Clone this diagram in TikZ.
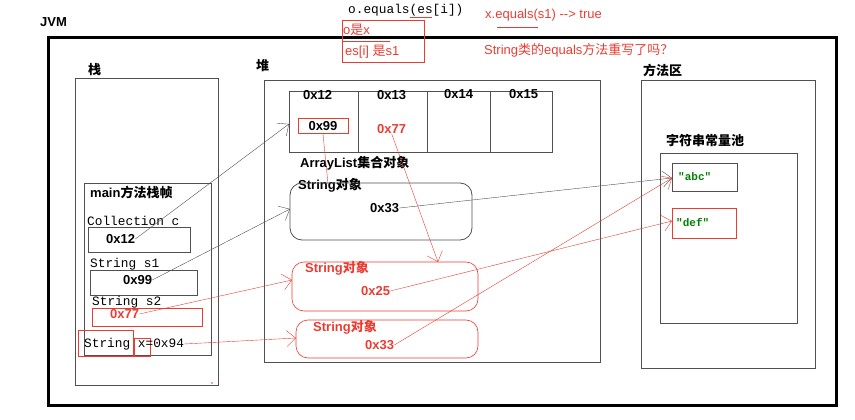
\documentclass[tikz,border=0pt]{standalone}
\usepackage{fontspec}
\setmainfont{Liberation Sans}
\setmonofont{Liberation Mono}
\newfontfamily\cjk{Noto Sans CJK SC}
\usetikzlibrary{arrows.meta}
\definecolor{rd}{RGB}{235,60,50}
\definecolor{gr}{RGB}{0,130,0}
\definecolor{ln}{RGB}{80,80,80}
\tikzset{
 box/.style={draw=ln,line width=0.8pt},
 rbox/.style={draw=rd,line width=0.6pt},
 lbl/.style={anchor=west,inner sep=0pt,font=\bfseries\fontsize{13}{14}\selectfont},
 rlbl/.style={lbl,text=rd},
 mono/.style={anchor=west,inner sep=0pt,font=\ttfamily\fontsize{12.8}{14}\selectfont},
 note/.style={anchor=west,inner sep=0pt,text=rd,font=\fontsize{13}{14}\selectfont},
 ga/.style={draw=ln,-{Straight Barb[length=9pt,width=16pt]}},
 ra/.style={draw=rd,-{Straight Barb[length=9pt,width=16pt]}},
}
\begin{document}
\begin{tikzpicture}[x=1pt,y=-1pt]
\useasboundingbox (0,0) rectangle (855,420);
\node[lbl] (jvm) at (40,22) {JVM};
\draw[line width=3pt] (48,38) rectangle (836,405);
% stack
\node[lbl] (zhan) at (88,70) {\cjk\bfseries 栈};
\draw[box] (75,78) rectangle (218,385);
\draw[box] (84,183) rectangle (211,355);
\node[lbl] at (90,192) {main{\cjk\bfseries 方法栈帧}};
\node[mono] at (87,221) {Collection c};
\draw[box] (88,227) rectangle (190,252);
\node[lbl] (s12) at (106,239) {0x12};
\node[mono] at (90,264) {String s1};
\draw[box] (90,270) rectangle (197,295);
\node[lbl] (s99) at (123,280) {0x99};
\node[mono] at (92,302) {String s2};
\draw[rbox] (92,308) rectangle (202,326);
\node[rlbl] (s77) at (110,314) {0x77};
\draw[rbox] (78,330) rectangle (133,356);
\draw[rbox] (134,338) rectangle (150,356);
\node[mono] (sx) at (84,344) {String x=0x94};
% heap
\node[lbl] at (256,66) {\cjk\bfseries 堆};
\draw[box] (264,80) rectangle (600,362);
\draw[box] (289,91) rectangle (552,152);
\foreach \x in {358,427,490} \draw[box] (\x,91) -- (\x,152);
\node[lbl] at (303,95) {0x12};
\node[lbl] at (377,95) {0x13};
\node[lbl] at (444,94) {0x14};
\node[lbl] at (509,94) {0x15};
\node[rbox,lbl,anchor=center,inner sep=3pt,minimum width=50pt] (c99) at (323,126) {0x99};
\node[rlbl] (c77) at (377,129) {0x77};
\node[lbl] at (300,163) {ArrayList{\cjk\bfseries 集合对象}};
\node[lbl] (so1) at (298,185) {String{\cjk\bfseries 对象}};
\draw[box,rounded corners=12pt] (290,183) rectangle (472,240);
\node[lbl] (h33) at (370,208) {0x33};
\draw[rbox,rounded corners=12pt] (292,262) rectangle (478,311);
\node[rlbl] at (305,268) {String{\cjk\bfseries 对象}};
\node[rlbl] (h25) at (361,291) {0x25};
\draw[rbox,rounded corners=12pt] (296,320) rectangle (478,358);
\node[rlbl] at (313,327) {String{\cjk\bfseries 对象}};
\node[rlbl] (r33) at (365,345) {0x33};
\coordinate (b1l) at (292,280);
\coordinate (b1t) at (438,262);
\coordinate (b2l) at (296,338);
\coordinate (arr) at (289,124);
\coordinate (rb) at (290,209);
\coordinate (so1p) at (328,184);
% method area
\node[lbl] at (643,70) {\cjk\bfseries 方法区};
\draw[box] (641,80) rectangle (815,368);
\node[lbl] at (666,141) {\cjk\bfseries 字符串常量池};
\draw[box] (660,153) rectangle (797,323);
\draw[box] (672,163) rectangle (737,191);
\node[anchor=west,inner sep=0pt,text=gr,font=\ttfamily\bfseries\fontsize{11}{12}\selectfont] (abc) at (678,177) {"abc"};
\draw[rbox] (672,208) rectangle (736,238);
\node[anchor=west,inner sep=0pt,text=gr,font=\ttfamily\bfseries\fontsize{11}{12}\selectfont] (def) at (676,222) {"def"};
\coordinate (abcl) at (672,178);
\coordinate (defl) at (672,221);
% top notes
\node[mono] at (348,10) {o.equals(es[i])};
\draw[rd,line width=0.5pt] (410,17) -- (432,17);
\draw[rbox] (342,20) rectangle (424,62);
\node[note] at (343,30) {o{\cjk 是}x};
\draw[rd,line width=0.5pt] (342,41) -- (390,41);
\node[note] at (345,52) {es[i] {\cjk 是}s1};
\node[note] at (485,15) {x.equals(s1) -{}-> true};
\draw[rd,line width=0.5pt] (497,27) -- (538,27);
\node[note] at (484,50) {String{\cjk 类的}equals{\cjk 方法重写了吗？}};
\fill[rd] (212,383) circle (0.8pt);
% arrows
\draw[ga] (s12.east) -- (arr);
\draw[ga] (s99.east) -- (rb);
\draw[ga] (h33.east) -- (abcl);
\draw[rd] (c99.south) -- (so1p);
\draw[ra] (c77.south) -- (b1t);
\draw[ra] (s77.east) -- (b1l);
\draw[ra] (h25.east) -- (defl);
\draw[ra] (r33.east) -- (abcl);
\draw[ra] (sx.east) -- (b2l);
\end{tikzpicture}
\end{document}
